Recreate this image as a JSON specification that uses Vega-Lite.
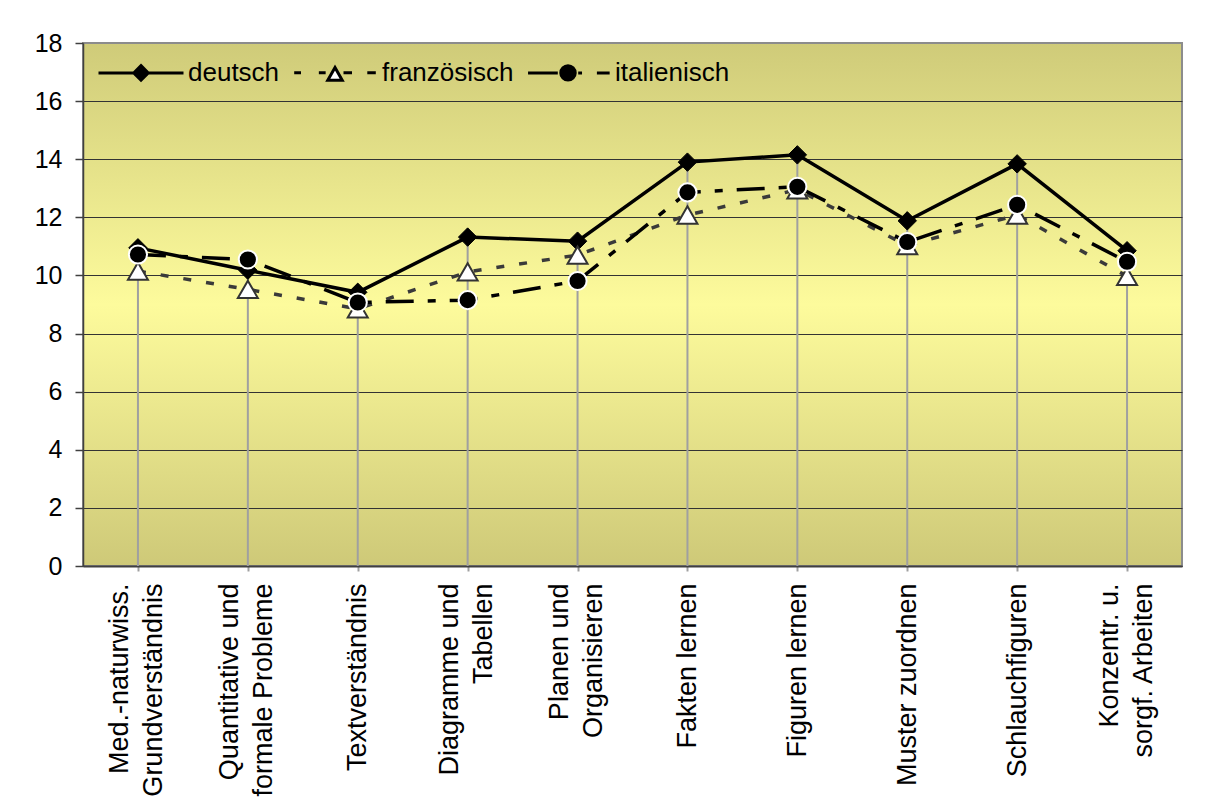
{
  "$schema": "https://vega.github.io/schema/vega-lite/v6.json",
  "width": 1099,
  "height": 523,
  "autosize": {"type": "none"},
  "padding": {"left": 83, "top": 43, "right": 41, "bottom": 245},
  "background": "white",
  "config": {
    "font": "Liberation Sans",
    "view": {
      "fill": {"gradient": "linear", "x1": 0, "y1": 0, "x2": 0, "y2": 1,
        "stops": [
          {"offset": 0, "color": "#cfcb79"},
          {"offset": 0.5, "color": "#fdfb9c"},
          {"offset": 1, "color": "#cec978"}
        ]},
      "stroke": "#8c8c8c",
      "strokeWidth": 2
    }
  },
  "datasets": {
    "scores": [
      {"category": "Med.-naturwiss.|Grundverständnis", "series": "deutsch", "value": 10.95},
      {"category": "Med.-naturwiss.|Grundverständnis", "series": "französisch", "value": 10.15},
      {"category": "Med.-naturwiss.|Grundverständnis", "series": "italienisch", "value": 10.72},
      {"category": "Quantitative und|formale Probleme", "series": "deutsch", "value": 10.18},
      {"category": "Quantitative und|formale Probleme", "series": "französisch", "value": 9.52},
      {"category": "Quantitative und|formale Probleme", "series": "italienisch", "value": 10.55},
      {"category": "Textverständnis", "series": "deutsch", "value": 9.42},
      {"category": "Textverständnis", "series": "französisch", "value": 8.85},
      {"category": "Textverständnis", "series": "italienisch", "value": 9.07},
      {"category": "Diagramme und|Tabellen", "series": "deutsch", "value": 11.32},
      {"category": "Diagramme und|Tabellen", "series": "französisch", "value": 10.12},
      {"category": "Diagramme und|Tabellen", "series": "italienisch", "value": 9.15},
      {"category": "Planen und|Organisieren", "series": "deutsch", "value": 11.18},
      {"category": "Planen und|Organisieren", "series": "französisch", "value": 10.7},
      {"category": "Planen und|Organisieren", "series": "italienisch", "value": 9.81},
      {"category": "Fakten lernen", "series": "deutsch", "value": 13.9},
      {"category": "Fakten lernen", "series": "französisch", "value": 12.08},
      {"category": "Fakten lernen", "series": "italienisch", "value": 12.86},
      {"category": "Figuren lernen", "series": "deutsch", "value": 14.15},
      {"category": "Figuren lernen", "series": "französisch", "value": 12.95},
      {"category": "Figuren lernen", "series": "italienisch", "value": 13.05},
      {"category": "Muster zuordnen", "series": "deutsch", "value": 11.88},
      {"category": "Muster zuordnen", "series": "französisch", "value": 11.03},
      {"category": "Muster zuordnen", "series": "italienisch", "value": 11.15},
      {"category": "Schlauchfiguren", "series": "deutsch", "value": 13.84},
      {"category": "Schlauchfiguren", "series": "französisch", "value": 12.08},
      {"category": "Schlauchfiguren", "series": "italienisch", "value": 12.43},
      {"category": "Konzentr. u.|sorgf. Arbeiten", "series": "deutsch", "value": 10.85},
      {"category": "Konzentr. u.|sorgf. Arbeiten", "series": "französisch", "value": 9.97},
      {"category": "Konzentr. u.|sorgf. Arbeiten", "series": "italienisch", "value": 10.47}
    ]
  },
  "data": {"name": "scores"},
  "encoding": {
    "x": {
      "field": "category",
      "type": "nominal",
      "sort": null,
      "scale": {"type": "point", "padding": 0.5},
      "axis": {
        "title": null,
        "labelAngle": 270,
        "labelAlign": "right",
        "labelBaseline": "middle",
        "labelFont": "Liberation Sans",
        "labelFontSize": 27,
        "labelLineHeight": 34,
        "labelColor": "black",
        "labelPadding": 12,
        "labelLimit": 500,
        "labelOverlap": false,
        "labelOffset": {"condition": {"test": "indexof(datum.value, '|') >= 0", "value": -18}, "value": 0},
        "labelExpr": "split(datum.value, '|')",
        "tickColor": "#a0a0a0",
        "tickSize": 5,
        "tickWidth": 2,
        "domainColor": "#404040",
        "domainWidth": 2,
        "grid": false
      }
    },
    "y": {
      "field": "value",
      "type": "quantitative",
      "scale": {"domain": [0, 18], "nice": false, "zero": true},
      "axis": {
        "title": null,
        "values": [0, 2, 4, 6, 8, 10, 12, 14, 16, 18],
        "labelFont": "Liberation Sans",
        "labelFontSize": 25,
        "labelColor": "black",
        "labelPadding": 13,
        "labelFlush": false,
        "tickColor": "#404040",
        "tickSize": 8,
        "tickWidth": 1.5,
        "domainColor": "#404040",
        "domainWidth": 1.5,
        "grid": true,
        "gridColor": {"condition": {"test": "datum.value == 18", "value": "#8c8c8c"}, "value": "#333333"},
        "gridWidth": 1
      }
    }
  },
  "layer": [
    {
      "transform": [{"aggregate": [{"op": "max", "field": "value", "as": "maxv"}], "groupby": ["category"]}],
      "mark": {"type": "rule", "color": "#a0a0a0", "strokeWidth": 2},
      "encoding": {
        "y": {"field": "maxv", "type": "quantitative"},
        "y2": {"datum": 0}
      }
    },
    {
      "transform": [{"filter": "datum.series == 'französisch'"}],
      "mark": {"type": "line", "color": "#3a3a3a", "strokeWidth": 3.5, "strokeDash": [8, 15]}
    },
    {
      "transform": [{"filter": "datum.series == 'italienisch'"}],
      "mark": {"type": "line", "color": "black", "strokeWidth": 3.5, "strokeDash": [28, 14, 8, 14]}
    },
    {
      "transform": [{"filter": "datum.series == 'deutsch'"}],
      "mark": {"type": "line", "color": "black", "strokeWidth": 3.5}
    },
    {
      "transform": [{"filter": "datum.series == 'deutsch'"}],
      "mark": {"type": "point", "shape": "diamond", "filled": true, "fill": "black", "stroke": "black", "strokeWidth": 1, "size": 340, "opacity": 1}
    },
    {
      "transform": [{"filter": "datum.series == 'französisch'"}],
      "mark": {"type": "point", "shape": "triangle-up", "filled": true, "fill": "white", "stroke": "#333333", "strokeWidth": 2, "size": 400, "opacity": 1}
    },
    {
      "transform": [{"filter": "datum.series == 'italienisch'"}],
      "mark": {"type": "point", "shape": "circle", "filled": true, "fill": "black", "stroke": "white", "strokeWidth": 2, "size": 330, "opacity": 1}
    },
    {
      "mark": {"type": "point", "opacity": 0, "stroke": "black", "strokeWidth": 3},
      "encoding": {
        "shape": {
          "field": "series",
          "type": "nominal",
          "scale": {
            "domain": ["deutsch", "französisch", "italienisch"],
            "range": [
              "M-1,0L1,0M0,-0.17L0.17,0L0,0.17L-0.17,0Z",
              "M-0.96,0L-0.8,0M-0.38,0L-0.22,0M0.2,0L0.4,0M0.76,0L0.96,0M0,-0.12L0.17,0.18L-0.17,0.18Z",
              "M-0.94,0L-0.24,0M0.24,0L0.33,0M0.68,0L0.98,0M0.17,0A0.17,0.17 0 1,1 -0.17,0A0.17,0.17 0 1,1 0.17,0Z"
            ]
          },
          "legend": {
            "orient": "none",
            "legendX": 14,
            "legendY": -14.5,
            "direction": "horizontal",
            "title": null,
            "padding": 0,
            "symbolSize": 7225,
            "symbolStrokeColor": "black",
            "symbolStrokeWidth": 3,
            "symbolOpacity": 1,
            "labelFont": "Liberation Sans",
            "labelFontSize": 26,
            "labelColor": "black",
            "labelOffset": 3,
            "columnPadding": 8,
            "labelLimit": 300,
            "encode": {"symbols": {"update": {"stroke": {"value": "black"}, "strokeWidth": {"value": 3}, "opacity": {"value": 1}, "strokeOpacity": {"value": 1}}}}
          }
        },
        "fill": {
          "field": "series",
          "type": "nominal",
          "scale": {"domain": ["deutsch", "französisch", "italienisch"], "range": ["black", "white", "black"]},
          "legend": {
            "orient": "none",
            "legendX": 14,
            "legendY": -14.5,
            "direction": "horizontal",
            "title": null,
            "padding": 0,
            "symbolSize": 7225,
            "symbolStrokeColor": "black",
            "symbolStrokeWidth": 3,
            "symbolOpacity": 1,
            "labelFont": "Liberation Sans",
            "labelFontSize": 26,
            "labelColor": "black",
            "labelOffset": 3,
            "columnPadding": 8,
            "labelLimit": 300,
            "encode": {"symbols": {"update": {"stroke": {"value": "black"}, "strokeWidth": {"value": 3}, "opacity": {"value": 1}, "strokeOpacity": {"value": 1}}}}
          }
        }
      }
    }
  ]
}
